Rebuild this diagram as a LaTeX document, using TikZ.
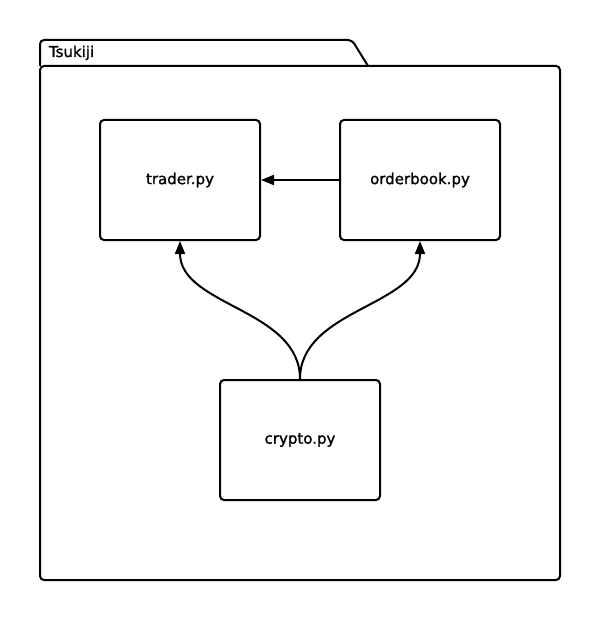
\documentclass[tikz,border=0pt]{standalone}
\usepackage{fontspec}
\setmainfont{DejaVu Sans}
\newfontfamily\lblfont{DejaVu Sans}[FakeBold=1.3]
\usetikzlibrary{arrows.meta}
\begin{document}
\begin{tikzpicture}[x=1pt,y=-1pt,
  line width=2pt,
  lbl/.style={font=\lblfont\fontsize{15}{18}\selectfont},
  filebox/.style={draw, rounded corners=4pt, minimum width=160pt, minimum height=120pt, inner sep=0pt, lbl},
  dep/.style={-{Triangle[length=13pt,width=10pt]}, line width=2pt}]
\useasboundingbox (0,0) rectangle (600,620);
% package frame
\draw[rounded corners=4pt] (40,66) -- (40,40) -- (352,40) -- (368,66);
\draw[rounded corners=4pt] (40,66) rectangle (560,580);
\node[anchor=base west, inner sep=0pt, lbl] (pkg) at (48,57) {Tsukiji};
% files
\node[filebox] (trader) at (180,180) {trader.py};
\node[filebox] (orderbook) at (420,180) {orderbook.py};
\node[filebox] (crypto) at (300,440) {crypto.py};
% dependencies
\draw[dep] (orderbook.west) -- (trader.east);
\draw[dep] (crypto.north) .. controls +(0,-70) and +(0,65) .. (trader.south);
\draw[dep] (crypto.north) .. controls +(0,-70) and +(0,65) .. (orderbook.south);
\end{tikzpicture}
\end{document}
